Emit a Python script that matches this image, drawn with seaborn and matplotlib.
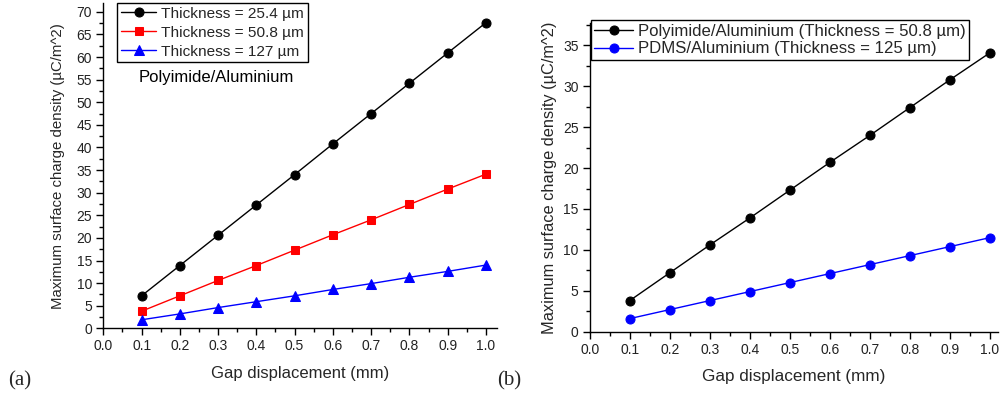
import numpy as np
import pandas as pd
import seaborn as sns
import matplotlib
matplotlib.use("Agg")
import matplotlib.pyplot as plt
from matplotlib.ticker import MultipleLocator

sns.set_theme(style="ticks")
plt.rcParams['font.family'] = ['Liberation Sans', 'DejaVu Sans']

gap = [0.1, 0.2, 0.3, 0.4, 0.5, 0.6, 0.7, 0.8, 0.9, 1.0]
pi_254 = [7.2, 13.9, 20.6, 27.3, 34.0, 40.8, 47.5, 54.2, 60.9, 67.6]
pi_508 = [3.8, 7.2, 10.6, 13.9, 17.3, 20.7, 24.0, 27.4, 30.8, 34.1]
pi_127 = [1.9, 3.2, 4.6, 5.9, 7.2, 8.6, 9.9, 11.3, 12.6, 14.0]
pdms_125 = [1.6, 2.7, 3.8, 4.9, 6.0, 7.1, 8.2, 9.3, 10.4, 11.5]

labels_a = ["Thickness = 25.4 µm", "Thickness = 50.8 µm", "Thickness = 127 µm"]
labels_b = ["Polyimide/Aluminium (Thickness = 50.8 µm)", "PDMS/Aluminium (Thickness = 125 µm)"]

fig = plt.figure(figsize=(10.06, 3.99), dpi=100)
ax1 = fig.add_axes([0.1027, 0.177, 0.3917, 0.816])
ax2 = fig.add_axes([0.5862, 0.1687, 0.4059, 0.7730])


def style_axes(ax, xfs, yfs, ypad):
    for s in ["top", "right"]:
        ax.spines[s].set_visible(False)
    for s in ["left", "bottom"]:
        ax.spines[s].set_color("black")
        ax.spines[s].set_linewidth(1.0)
    ax.xaxis.set_major_locator(MultipleLocator(0.1))
    ax.xaxis.set_minor_locator(MultipleLocator(0.05))
    ax.yaxis.set_major_locator(MultipleLocator(5))
    ax.yaxis.set_minor_locator(MultipleLocator(2.5))
    ax.tick_params(axis="both", which="major", direction="out", length=5, width=1,
                   color="black", labelsize=10, labelcolor="#222222", pad=3)
    ax.tick_params(axis="both", which="minor", direction="out", length=3, width=1, color="black")
    ax.xaxis.set_major_formatter(plt.FuncFormatter(lambda v, p: f"{v:.1f}"))
    ax.yaxis.set_major_formatter(plt.FuncFormatter(lambda v, p: f"{v:.0f}"))
    ax.set_xlabel("Gap displacement (mm)", fontsize=xfs, labelpad=9)
    ax.set_ylabel("Maximum surface charge density (µC/m^2)", fontsize=yfs, labelpad=ypad)
    ax.set_facecolor("white")


# Panel (a)
sns.lineplot(x=gap, y=pi_254, ax=ax1, color="black", marker="o", markersize=6.5,
             markeredgecolor="black", linewidth=1, label=labels_a[0])
sns.lineplot(x=gap, y=pi_508, ax=ax1, color="red", marker="s", markersize=5.5,
             markeredgecolor="red", linewidth=1, label=labels_a[1])
sns.lineplot(x=gap, y=pi_127, ax=ax1, color="blue", marker="^", markersize=7,
             markeredgecolor="blue", linewidth=1, label=labels_a[2])
ax1.set_xlim(0, 1.03)
ax1.set_ylim(0, 72)
style_axes(ax1, 12, 10.8, 8)
leg1 = ax1.legend(loc="upper left", bbox_to_anchor=(0.035, 1.0), fontsize=11.1,
                  frameon=True, fancybox=False, edgecolor="black", framealpha=1,
                  handlelength=2.3, borderpad=0.25, labelspacing=0.32, handletextpad=0.3,
                  borderaxespad=0)
leg1.get_frame().set_linewidth(1.0)
ax1.text(0.09, 0.77, "Polyimide/Aluminium", transform=ax1.transAxes,
         fontsize=12, ha="left", va="center", color="black")

# Panel (b)
sns.lineplot(x=gap, y=pi_508, ax=ax2, color="black", marker="o", markersize=6.5,
             markeredgecolor="black", linewidth=1, label=labels_b[0])
sns.lineplot(x=gap, y=pdms_125, ax=ax2, color="blue", marker="o", markersize=6.5,
             markeredgecolor="blue", linewidth=1, label=labels_b[1])
ax2.set_xlim(0, 1.02)
ax2.set_ylim(0, 37.7)
style_axes(ax2, 12.3, 11.8, 4)
leg2 = ax2.legend(loc="upper left", bbox_to_anchor=(0.003, 1.01), fontsize=12.1,
                  frameon=True, fancybox=False, edgecolor="black", framealpha=1,
                  handlelength=2.3, borderpad=0.2, labelspacing=0.17, handletextpad=0.3,
                  borderaxespad=0)
leg2.get_frame().set_linewidth(1.0)

fig.text(0.008, 0.045, "(a)", fontsize=15, family=["Liberation Serif", "DejaVu Serif"],
         ha="left", va="center")
fig.text(0.494, 0.045, "(b)", fontsize=15, family=["Liberation Serif", "DejaVu Serif"],
         ha="left", va="center")

fig.savefig("out.png", dpi=100, facecolor="white")
